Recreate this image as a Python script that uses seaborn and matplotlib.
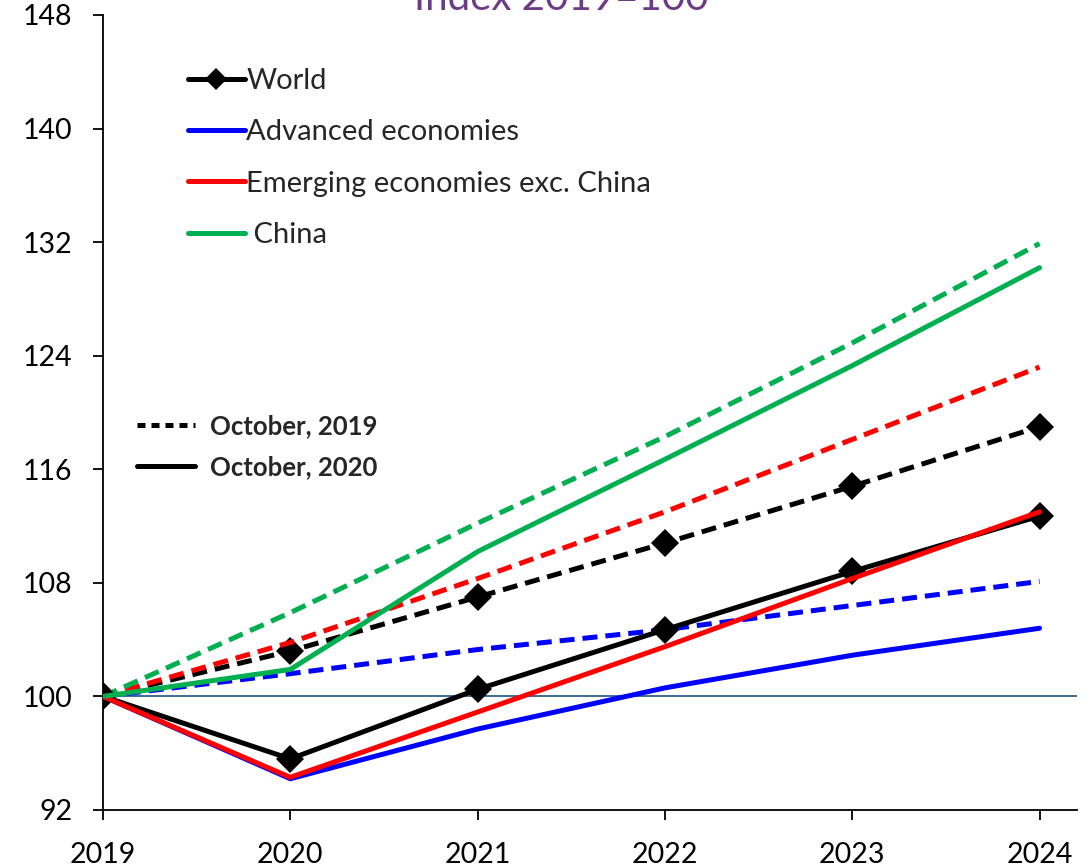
import matplotlib
matplotlib.use("Agg")
import matplotlib.pyplot as plt
from matplotlib.lines import Line2D
import seaborn as sns
import pandas as pd

years = [2019, 2020, 2021, 2022, 2023, 2024]

# October 2020 projections (solid lines)
world_2020 = [100, 95.6, 100.5, 104.7, 108.8, 112.7]
advanced_2020 = [100, 94.2, 97.7, 100.6, 102.9, 104.8]
emerging_2020 = [100, 94.3, 98.9, 103.5, 108.3, 113.0]
china_2020 = [100, 101.9, 110.2, 116.7, 123.3, 130.2]

# October 2019 projections (dashed lines)
world_2019 = [100, 103.2, 107.0, 110.8, 114.8, 119.0]
advanced_2019 = [100, 101.6, 103.3, 104.7, 106.4, 108.1]
emerging_2019 = [100, 103.8, 108.3, 113.0, 118.1, 123.2]
china_2019 = [100, 105.9, 112.2, 118.3, 124.9, 131.9]

series_names = ["World", "Advanced economies", "Emerging economies exc. China", " China"]
vintage_names = ["October, 2019", "October, 2020"]
colors = ["#000000", "#0000FF", "#FF0000", "#00B050"]
yticks = [92, 100, 108, 116, 124, 132, 140, 148]

sns.set_theme(style="white")
plt.rcParams["font.family"] = ["Lato", "DejaVu Sans"]

fig = plt.figure(figsize=(10.89, 8.66), dpi=100)
ax = fig.add_axes([0.0946, 0.0647, 0.8944, 0.9180])

ax.axhline(100, color="#2E6190", lw=1.3, zorder=1)

LW = 3.6
dash = (3.0, 1.6)
projections = [
    (world_2019, world_2020),
    (advanced_2019, advanced_2020),
    (emerging_2019, emerging_2020),
    (china_2019, china_2020),
]
for (old, new), name, col in zip(projections, series_names, colors):
    marker = "D" if name == "World" else None
    df_old = pd.DataFrame({"year": years, "value": old})
    df_new = pd.DataFrame({"year": years, "value": new})
    sns.lineplot(data=df_old, x="year", y="value", ax=ax, color=col, lw=LW,
                 marker=marker, markersize=14.5, markeredgewidth=0, zorder=3)
    ax.lines[-1].set_dashes(dash)
    sns.lineplot(data=df_new, x="year", y="value", ax=ax, color=col, lw=LW,
                 marker=marker, markersize=14.5, markeredgewidth=0, zorder=4)

ax.set_xlim(2019, 2024.2)
ax.set_ylim(92, 148)
ax.set_xticks(years)
ax.set_yticks(yticks)
ax.set_xlabel("")
ax.set_ylabel("")
for s in ["top", "right"]:
    ax.spines[s].set_visible(False)
for s in ["left", "bottom"]:
    ax.spines[s].set_color("black")
    ax.spines[s].set_linewidth(1.3)
ax.tick_params(axis="both", which="both", direction="out", length=7, width=1.3,
               color="black", labelsize=20.5, labelcolor="black", bottom=True, left=True)
ax.tick_params(axis="x", pad=16)
ax.tick_params(axis="y", pad=15)

# Series legend
handles = [
    Line2D([], [], color=colors[0], lw=LW, marker="D", markersize=11, markeredgewidth=0),
    Line2D([], [], color=colors[1], lw=LW, solid_capstyle="round"),
    Line2D([], [], color=colors[2], lw=LW, solid_capstyle="round"),
    Line2D([], [], color=colors[3], lw=LW, solid_capstyle="round"),
]
leg1 = ax.legend(handles, series_names, loc="upper left", bbox_to_anchor=(0.087, 0.933),
                 frameon=False, fontsize=21, handlelength=1.95, handletextpad=0.05,
                 labelspacing=0.865, borderpad=0, borderaxespad=0)
ax.add_artist(leg1)

# Vintage legend
vintage_handles = [
    Line2D([], [], color="black", lw=LW, linestyle=(0, (1.6, 1.2))),
    Line2D([], [], color="black", lw=LW),
]
ax.legend(vintage_handles, vintage_names, loc="upper left",
          bbox_to_anchor=(0.035, 0.4985), frameon=False,
          prop={"size": 18.5, "weight": "bold"}, handlelength=2.25, handletextpad=0.6,
          labelspacing=0.68, borderpad=0, borderaxespad=0)

fig.text(0.515, 0.9885, "Index 2019=100", color="#6E3A85", fontsize=29,
         ha="center", va="baseline")

fig.savefig("out.png", dpi=100)
